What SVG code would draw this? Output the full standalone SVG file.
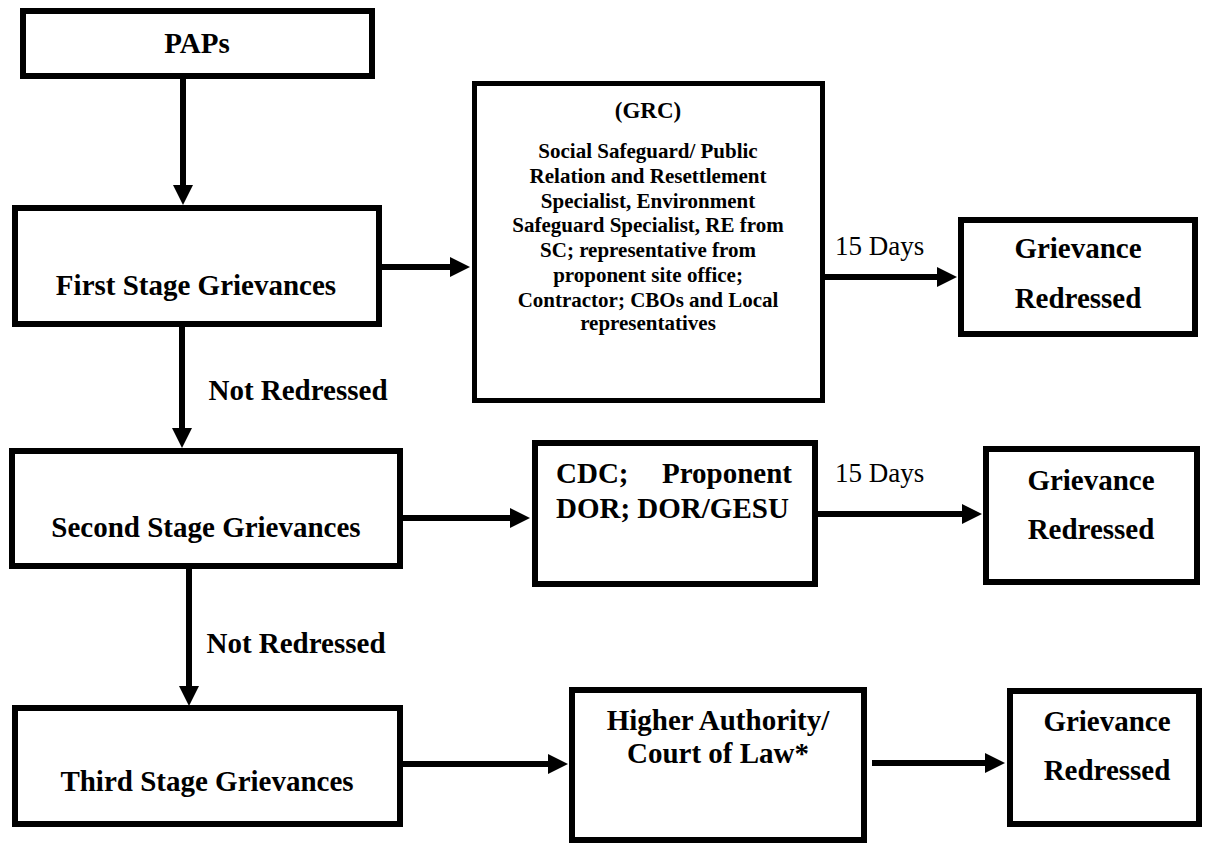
<svg xmlns="http://www.w3.org/2000/svg" width="1207" height="844" viewBox="0 0 1207 844">
<style>
.box{fill:#fff;stroke:#000;stroke-width:6}
.thin{stroke-width:5}
text{font-family:'Liberation Serif','Times New Roman',Tinos,'DejaVu Serif',serif;fill:#000}
.t{font-weight:bold;font-size:29px;text-anchor:middle}
.s{font-weight:bold;font-size:21px;text-anchor:middle}
.d{font-size:27px}
.c{stroke:#000;stroke-width:6;fill:none}
</style>
<defs>
<marker id="ah" markerUnits="userSpaceOnUse" markerWidth="20" markerHeight="20" refX="0" refY="10" orient="auto" overflow="visible">
<path d="M0,0 L20,10 L0,20 Z" fill="#000"/>
</marker>
</defs>
<rect width="1207" height="844" fill="#fff"/>
<g id="connectors">
<line class="c" x1="183" y1="79" x2="183" y2="185" marker-end="url(#ah)"/>
<line class="c" x1="182" y1="327" x2="182" y2="428" marker-end="url(#ah)"/>
<line class="c" x1="189" y1="569" x2="189" y2="686" marker-end="url(#ah)"/>
<line class="c" x1="382" y1="267" x2="450" y2="267" marker-end="url(#ah)"/>
<line class="c" x1="825" y1="277" x2="937" y2="277" marker-end="url(#ah)"/>
<line class="c" x1="403" y1="518" x2="510" y2="518" marker-end="url(#ah)"/>
<line class="c" x1="818" y1="514" x2="962" y2="514" marker-end="url(#ah)"/>
<line class="c" x1="403" y1="764" x2="548" y2="764" marker-end="url(#ah)"/>
<line class="c" x1="872" y1="763" x2="985" y2="763" marker-end="url(#ah)"/>
<text class="t" x="298" y="400" font-family="Liberation Serif, serif">Not Redressed</text>
<text class="t" x="296" y="653">Not Redressed</text>
<text class="d" x="835" y="255">15 Days</text>
<text class="d" x="835" y="482">15 Days</text>
</g>
<g id="paps">
<rect class="box" x="23" y="11" width="349" height="65"/>
<text class="t" x="197" y="53">PAPs</text>
</g>
<g id="first-stage">
<rect class="box" x="15" y="208" width="364" height="116"/>
<text class="t" x="196" y="295">First Stage Grievances</text>
</g>
<g id="second-stage">
<rect class="box" x="12" y="451" width="388" height="115"/>
<text class="t" x="206" y="537">Second Stage Grievances</text>
</g>
<g id="third-stage">
<rect class="box" x="15" y="708" width="385" height="116"/>
<text class="t" x="207" y="791">Third Stage Grievances</text>
</g>
<g id="grc">
<rect class="box thin" x="474.5" y="83.5" width="348" height="317"/>
<text class="s" x="648" y="118" style="font-size:23px">(GRC)</text>
<text class="s" x="648" y="158">Social Safeguard/ Public</text>
<text class="s" x="648" y="183">Relation and Resettlement</text>
<text class="s" x="648" y="208">Specialist, Environment</text>
<text class="s" x="648" y="232">Safeguard Specialist, RE from</text>
<text class="s" x="648" y="257">SC; representative from</text>
<text class="s" x="648" y="282">proponent site office;</text>
<text class="s" x="648" y="307">Contractor; CBOs and Local</text>
<text class="s" x="648" y="330">representatives</text>
</g>
<g id="cdc">
<rect class="box" x="535" y="443" width="280" height="141"/>
<text class="t" x="556" y="483" style="text-anchor:start">CDC;</text>
<text class="t" x="792" y="483" style="text-anchor:end">Proponent</text>
<text class="t" x="556" y="518" style="text-anchor:start">DOR; DOR/GESU</text>
</g>
<g id="higher-authority">
<rect class="box" x="572" y="690" width="292" height="150"/>
<text class="t" x="718" y="730">Higher Authority/</text>
<text class="t" x="718" y="763">Court of Law*</text>
</g>
<g id="redressed-1">
<rect class="box" x="961" y="220" width="234" height="114"/>
<text class="t" x="1078" y="258">Grievance</text>
<text class="t" x="1078" y="308">Redressed</text>
</g>
<g id="redressed-2">
<rect class="box" x="986" y="449" width="211" height="133"/>
<text class="t" x="1091" y="490">Grievance</text>
<text class="t" x="1091" y="539">Redressed</text>
</g>
<g id="redressed-3">
<rect class="box" x="1010" y="691" width="189" height="133"/>
<text class="t" x="1107" y="731">Grievance</text>
<text class="t" x="1107" y="780">Redressed</text>
</g>
</svg>
